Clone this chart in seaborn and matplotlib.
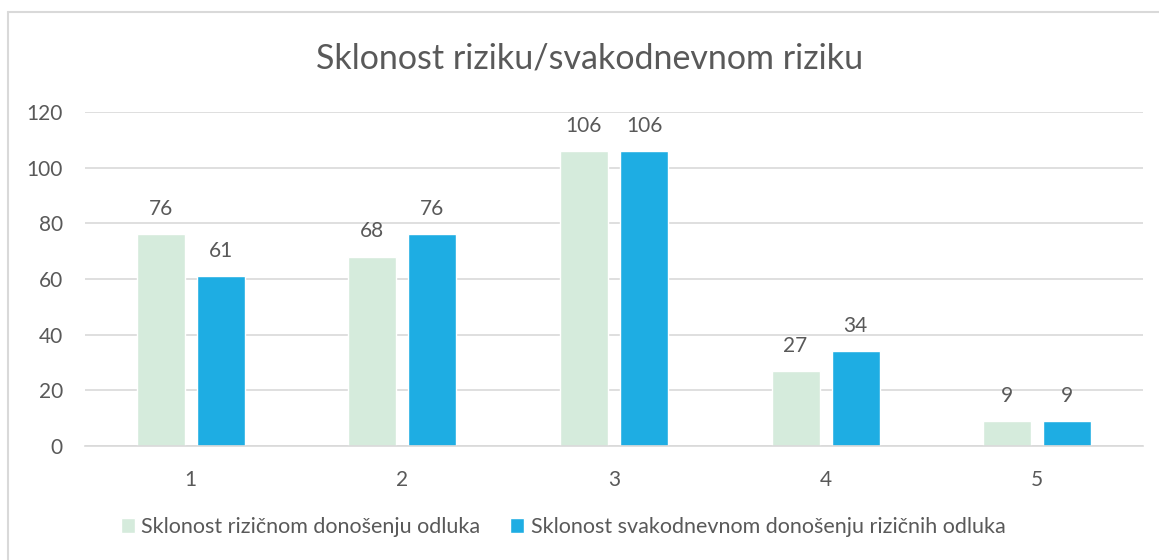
import seaborn as sns
import matplotlib.pyplot as plt
import pandas as pd

categories = ["1", "2", "3", "4", "5"]
series_names = ["Sklonost rizičnom donošenju odluka",
                "Sklonost svakodnevnom donošenju rizičnih odluka"]
rizicno = [76, 68, 106, 27, 9]
svakodnevno = [61, 76, 106, 34, 9]
title = "Sklonost riziku/svakodnevnom riziku"

colors = ["#d5ebdc", "#1eade3"]
text_col = "#595959"
grid_col = "#d9d9d9"

df = pd.DataFrame({
    "kategorija": categories * 2,
    "serija": [series_names[0]] * len(categories) + [series_names[1]] * len(categories),
    "vrijednost": rizicno + svakodnevno,
})

sns.set_style("white")
plt.rcParams["font.family"] = ["Lato", "DejaVu Sans"]

fig = plt.figure(figsize=(11.59, 5.6), dpi=100)
ax = fig.add_axes([85 / 1159, 1 - 446 / 560, 1058 / 1159, 334 / 560])

sns.barplot(data=df, x="kategorija", y="vrijednost", hue="serija",
            order=categories, hue_order=series_names, palette=colors,
            width=0.568, gap=0.2, ax=ax, saturation=1)

for cont in ax.containers:
    ax.bar_label(cont, padding=11, fontsize=15, color=text_col)

ax.set_ylim(0, 120)
ax.set_xlim(-0.5, 4.5)
ax.set_yticks(range(0, 121, 20))
ax.yaxis.grid(True, color=grid_col, linewidth=1.2)
ax.set_axisbelow(True)
for s in ["top", "right", "left"]:
    ax.spines[s].set_visible(False)
ax.spines["bottom"].set_color(grid_col)
ax.spines["bottom"].set_linewidth(1.2)
ax.tick_params(axis="both", length=0, labelsize=15, colors=text_col)
ax.tick_params(axis="x", pad=17)
ax.tick_params(axis="y", pad=16)
ax.set_xlabel("")
ax.set_ylabel("")

ax.legend_.remove()
handles, labels = ax.get_legend_handles_labels()
fig.legend(handles, labels, loc="center", bbox_to_anchor=(563 / 1159, 1 - 527 / 560),
           ncol=2, frameon=False, fontsize=15.5, labelcolor=text_col,
           handlelength=0.65, handleheight=0.65, handletextpad=0.3, columnspacing=1.4)

fig.text(590 / 1159, 1 - 58 / 560, title, ha="center", va="center",
         fontsize=24.5, color=text_col)

# frame of the chart area (extends past image on right and bottom)
fig.add_artist(plt.Line2D([8 / 1159, 8 / 1159], [0, 1 - 12 / 560],
                          color=grid_col, linewidth=1.5))
fig.add_artist(plt.Line2D([8 / 1159, 1], [1 - 12 / 560, 1 - 12 / 560],
                          color=grid_col, linewidth=1.5))

fig.savefig("out.png", dpi=100)
